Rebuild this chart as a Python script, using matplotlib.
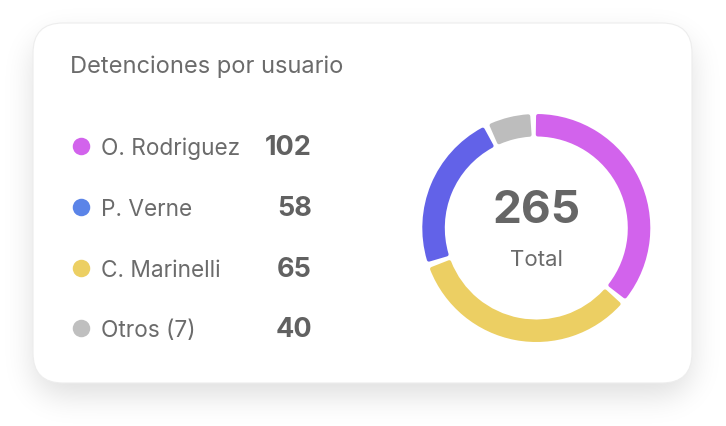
import numpy as np
import matplotlib
matplotlib.use("Agg")
import matplotlib.pyplot as plt
from matplotlib.patches import FancyBboxPatch

# ---------------- data ----------------
title = "Detenciones por usuario"
names = ["O. Rodriguez", "P. Verne", "C. Marinelli", "Otros (7)"]
counts = [102, 58, 65, 40]
dot_colors = ["#D263EC", "#5B84E8", "#ECCF63", "#BFBFBF"]

# ring segments as drawn (clockwise from top)
ring_labels = ["O. Rodriguez", "C. Marinelli", "P. Verne", "Otros (7)"]
ring_values = [97, 89, 61, 18]
ring_colors = ["#D263EC", "#ECCF63", "#6262E8", "#BDBDBD"]
total = sum(counts)
center_label = "Total"

# ---------------- figure ----------------
W, H = 726, 427
fig = plt.figure(figsize=(W / 100, H / 100), dpi=100)
fig.patch.set_facecolor("white")
ax = fig.add_axes([0, 0, 1, 1])

plt.rcParams["font.family"] = ["Inter", "DejaVu Sans"]
FONT = ["Inter", "DejaVu Sans"]

def Y(y_img):
    return H - y_img

# card geometry (image coords)
cx0, cy0, cx1, cy1, crad = 33, 24, 692, 384, 30

# shadow: blurred rounded rect
yy, xx = np.mgrid[0:H, 0:W] + 0.5
off = 13
ccx, ccy = (cx0 + cx1) / 2, (cy0 + cy1) / 2 + off
hx, hy = (cx1 - cx0) / 2 - crad, (cy1 - cy0) / 2 - crad
qx = np.abs(xx - ccx) - hx
qy = np.abs(yy - ccy) - hy
d = np.hypot(np.maximum(qx, 0), np.maximum(qy, 0)) + np.minimum(np.maximum(qx, qy), 0) - crad
mask = (d < 0).astype(float)
sig = 15
k = np.arange(-3 * sig, 3 * sig + 1)
kern = np.exp(-0.5 * (k / sig) ** 2)
kern /= kern.sum()
blur = np.apply_along_axis(lambda v: np.convolve(v, kern, mode="same"), 0, mask)
blur = np.apply_along_axis(lambda v: np.convolve(v, kern, mode="same"), 1, blur)
rgba = np.zeros((H, W, 4))
rgba[..., 3] = blur * 0.13
ax.imshow(rgba, extent=(0, W, 0, H), origin="upper", zorder=0, interpolation="bilinear")

card = FancyBboxPatch((cx0, Y(cy1)), cx1 - cx0, cy1 - cy0,
                      boxstyle=f"round,pad=0,rounding_size={crad}",
                      facecolor="white", edgecolor="#EDEDED", linewidth=0.8, zorder=1)
ax.add_patch(card)

# title
ax.text(70, Y(73), title, fontsize=17, color="#6B6B6B", family=FONT,
        ha="left", va="baseline", zorder=3)

# legend rows
row_base = [155, 216, 277, 337]
for i, (n, c, col) in enumerate(zip(names, counts, dot_colors)):
    yb = row_base[i]
    ax.scatter([80.5], [Y(yb - 8)], s=(17.5 * 0.72) ** 2, color=col, zorder=3, linewidths=0)
    ax.text(101, Y(yb), n, fontsize=16.3, color="#6B6B6B", family=FONT,
            ha="left", va="baseline", zorder=3)
    ax.text(312, Y(yb), str(c), fontsize=19.5, color="#616161", family=FONT,
            fontweight="bold", ha="right", va="baseline", zorder=3)

# donut
dcx, dcy = 536.3, Y(229)
r_out, ring_w = 114, 22.5
lw_px = 4
wedges, _ = ax.pie(ring_values, colors=ring_colors, startangle=91.6, counterclock=False,
                   radius=r_out, center=(dcx, dcy), frame=True)
gap_px = 5
r_mid = r_out - ring_w / 2
dth = np.degrees((gap_px / 2 + lw_px / 2) / r_mid)
for w, col in zip(wedges, ring_colors):
    w.set_theta1(w.theta1 + dth)
    w.set_theta2(w.theta2 - dth)
    w.set_radius(r_out - lw_px / 2)
    w.set_width(ring_w - lw_px)
    w.set_edgecolor(col)
    w.set_linewidth(lw_px * 0.72)
    w.set_joinstyle("round")
    w.set_zorder(2)

ax.text(dcx, Y(223), str(total), fontsize=33, color="#666666", family=FONT,
        fontweight="bold", ha="center", va="baseline", zorder=3)
ax.text(dcx, Y(266), center_label, fontsize=16, color="#6B6B6B", family=FONT,
        ha="center", va="baseline", zorder=3)

ax.set_xlim(0, W)
ax.set_ylim(0, H)
ax.set_aspect("auto")
ax.axis("off")

fig.savefig("out.png", dpi=100, facecolor="white")
